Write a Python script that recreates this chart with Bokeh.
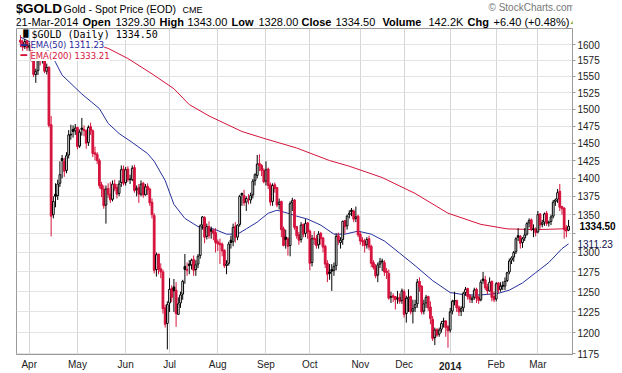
import math
import numpy as np
import pandas as pd
from bokeh.plotting import figure
from bokeh.layouts import column
from bokeh.models import (Range1d, FixedTicker, PrintfTickFormatter, Label, ColumnDataSource,
                          LinearAxis, LogAxis)
from bokeh.embed import file_html
from bokeh.resources import INLINE

# ---------------- data ----------------
holidays = ["2013-03-29", "2013-05-27", "2013-07-04", "2013-09-02", "2013-11-28",
            "2013-12-25", "2014-01-01", "2014-01-20", "2014-02-17"]
dates = pd.bdate_range("2013-03-25", "2014-03-21")
dates = dates[~dates.isin(pd.to_datetime(holidays))]

opens = [
    1607, 1604, 1597, 1606,
    1596, 1599, 1576, 1553, 1559, 1581, 1575, 1586, 1558, 1564, 1477, 1350, 1378, 1376, 1393, 1428, 1424, 1411, 1433, 1463, 1470, 1468,
    1473, 1446, 1472, 1470, 1468, 1451, 1474, 1468, 1436, 1434, 1425, 1391, 1385, 1363, 1386, 1378, 1371, 1392, 1387, 1379, 1394, 1413,
    1394, 1413, 1399, 1398, 1415, 1384, 1387, 1378, 1393, 1377, 1389, 1385, 1367, 1349, 1278, 1298, 1279, 1275, 1230, 1211,
    1236, 1254, 1256, 1252, 1222, 1236, 1247, 1282, 1278, 1285, 1284, 1291, 1278, 1285, 1296, 1336, 1346, 1321, 1334, 1330, 1329, 1326,
    1314, 1312, 1311, 1303, 1283, 1286, 1316, 1314, 1334, 1320, 1337, 1379, 1376, 1367, 1371, 1370, 1377, 1397, 1404, 1421, 1418, 1411,
    1396, 1413, 1391, 1368, 1391, 1387, 1364, 1368, 1331, 1320, 1318, 1309, 1366, 1370, 1334, 1323, 1317, 1337, 1325, 1339,
    1328, 1287, 1319, 1318, 1310, 1325, 1319, 1308, 1286, 1275, 1278, 1277, 1283, 1322, 1313, 1317, 1342, 1335, 1350, 1356, 1355, 1345, 1348,
    1324, 1316, 1315, 1310, 1318, 1308, 1287, 1282, 1271, 1285, 1289, 1287, 1276, 1273, 1243, 1245, 1244, 1241, 1243, 1239,
    1250, 1223, 1241, 1244, 1226, 1230, 1235, 1263, 1257, 1226, 1236, 1244, 1231, 1216, 1194, 1204, 1198, 1204, 1214, 1214, 1207,
    1203, 1226, 1239, 1239, 1231, 1226, 1230, 1249, 1254, 1245, 1240, 1243, 1253, 1243, 1240, 1266, 1265, 1256, 1251, 1263, 1244,
    1241, 1261, 1253, 1258, 1257, 1264, 1275, 1290, 1294, 1301, 1322, 1321, 1313, 1319, 1324, 1339, 1343, 1331, 1331,
    1327, 1351, 1337, 1340, 1352, 1339, 1341, 1348, 1368, 1371, 1382, 1361, 1359, 1331, 1329.3,
]
highs = [
    1615, 1608, 1609, 1607,
    1603, 1600, 1578, 1562, 1588, 1583, 1588, 1588, 1570, 1566, 1490, 1375, 1393, 1398, 1424, 1433, 1429, 1437, 1469, 1477, 1476, 1478,
    1474, 1470, 1487, 1476, 1470, 1476, 1480, 1470, 1445, 1437, 1428, 1395, 1390, 1390, 1393, 1395, 1397, 1398, 1392, 1397, 1418, 1418,
    1416, 1417, 1405, 1418, 1419, 1390, 1392, 1397, 1395, 1392, 1393, 1387, 1372, 1352, 1300, 1298, 1286, 1278, 1234, 1238,
    1267, 1258, 1266, 1262, 1243, 1250, 1265, 1298, 1287, 1290, 1292, 1296, 1290, 1298, 1337, 1348, 1348, 1338, 1341, 1334, 1331, 1332,
    1317, 1318, 1313, 1304, 1290, 1314, 1322, 1338, 1340, 1337, 1377, 1380, 1384, 1375, 1378, 1380, 1399, 1407, 1433, 1434, 1420, 1414,
    1424, 1415, 1394, 1393, 1394, 1388, 1372, 1369, 1334, 1330, 1320, 1368, 1373, 1371, 1335, 1327, 1340, 1338, 1344, 1340,
    1330, 1323, 1328, 1323, 1328, 1327, 1320, 1310, 1290, 1285, 1285, 1287, 1325, 1326, 1320, 1342, 1342, 1350, 1356, 1359, 1357, 1361, 1350,
    1327, 1320, 1318, 1320, 1322, 1310, 1290, 1285, 1287, 1293, 1292, 1290, 1280, 1278, 1250, 1248, 1244, 1251, 1248, 1254,
    1253, 1245, 1253, 1245, 1240, 1240, 1266, 1268, 1258, 1240, 1246, 1245, 1238, 1220, 1206, 1205, 1206, 1214, 1218, 1215, 1209,
    1230, 1240, 1250, 1240, 1233, 1232, 1250, 1256, 1255, 1247, 1245, 1255, 1255, 1245, 1265, 1275, 1270, 1260, 1268, 1264, 1250,
    1262, 1262, 1262, 1263, 1268, 1275, 1292, 1295, 1302, 1320, 1332, 1323, 1320, 1332, 1340, 1345, 1345, 1337, 1333,
    1355, 1352, 1343, 1353, 1355, 1342, 1350, 1370, 1372, 1385, 1392, 1362, 1360, 1336, 1343,
]
lows = [
    1596, 1590, 1593, 1590,
    1590, 1573, 1549, 1540, 1552, 1567, 1570, 1555, 1553, 1473, 1321, 1345, 1360, 1370, 1388, 1400, 1402, 1407, 1428, 1455, 1458, 1462,
    1441, 1443, 1461, 1460, 1442, 1446, 1462, 1430, 1425, 1420, 1386, 1374, 1358, 1338, 1373, 1366, 1368, 1382, 1372, 1375, 1388, 1390,
    1390, 1395, 1392, 1396, 1380, 1375, 1366, 1375, 1373, 1376, 1377, 1362, 1345, 1273, 1269, 1272, 1267, 1223, 1206, 1180,
    1225, 1237, 1225, 1207, 1222, 1230, 1240, 1260, 1270, 1272, 1278, 1270, 1270, 1280, 1292, 1330, 1312, 1317, 1318, 1318, 1316, 1300,
    1302, 1285, 1295, 1280, 1272, 1283, 1305, 1308, 1313, 1316, 1334, 1362, 1362, 1355, 1364, 1365, 1372, 1390, 1400, 1410, 1403, 1393,
    1390, 1385, 1362, 1362, 1380, 1360, 1357, 1320, 1308, 1305, 1296, 1295, 1355, 1330, 1318, 1310, 1313, 1320, 1320, 1318,
    1277, 1282, 1310, 1305, 1305, 1310, 1300, 1280, 1262, 1265, 1251, 1270, 1277, 1310, 1305, 1310, 1325, 1330, 1345, 1348, 1340, 1340, 1320,
    1310, 1308, 1300, 1305, 1303, 1281, 1278, 1267, 1262, 1280, 1276, 1270, 1266, 1240, 1236, 1237, 1228, 1235, 1235, 1235,
    1218, 1212, 1225, 1222, 1211, 1225, 1230, 1250, 1222, 1222, 1230, 1226, 1210, 1190, 1185, 1195, 1195, 1200, 1206, 1195, 1182,
    1200, 1222, 1233, 1225, 1220, 1220, 1225, 1245, 1240, 1236, 1236, 1240, 1236, 1235, 1238, 1260, 1252, 1247, 1250, 1238, 1237,
    1238, 1248, 1250, 1252, 1252, 1262, 1272, 1285, 1288, 1298, 1315, 1305, 1306, 1315, 1322, 1333, 1328, 1320, 1321,
    1325, 1331, 1333, 1335, 1335, 1334, 1336, 1345, 1362, 1366, 1355, 1350, 1318, 1320, 1328,
]
closes = [
    1604, 1596, 1605, 1595,
    1598, 1575, 1553, 1558, 1580, 1575, 1585, 1558, 1564, 1476, 1348, 1368, 1375, 1392, 1405, 1425, 1410, 1432, 1462, 1462, 1467, 1472,
    1445, 1466, 1470, 1468, 1450, 1473, 1468, 1435, 1434, 1425, 1390, 1385, 1362, 1385, 1378, 1370, 1392, 1386, 1378, 1392, 1412, 1393,
    1412, 1398, 1398, 1414, 1383, 1386, 1378, 1392, 1377, 1388, 1384, 1366, 1350, 1277, 1297, 1278, 1275, 1229, 1210, 1234,
    1253, 1243, 1251, 1223, 1235, 1246, 1263, 1278, 1277, 1283, 1290, 1277, 1284, 1295, 1335, 1347, 1320, 1334, 1322, 1328, 1325, 1313,
    1311, 1310, 1302, 1283, 1285, 1311, 1313, 1333, 1320, 1336, 1375, 1377, 1366, 1372, 1370, 1376, 1396, 1405, 1420, 1418, 1411, 1395,
    1412, 1390, 1367, 1390, 1386, 1363, 1367, 1330, 1309, 1317, 1308, 1365, 1369, 1333, 1322, 1316, 1336, 1324, 1338, 1327,
    1286, 1318, 1317, 1309, 1324, 1318, 1307, 1285, 1272, 1273, 1276, 1282, 1321, 1315, 1316, 1341, 1334, 1348, 1352, 1354, 1344, 1347, 1323,
    1315, 1314, 1309, 1317, 1307, 1286, 1281, 1270, 1284, 1288, 1288, 1275, 1274, 1242, 1244, 1243, 1240, 1242, 1238, 1251,
    1222, 1242, 1243, 1225, 1229, 1234, 1262, 1256, 1225, 1235, 1243, 1230, 1217, 1193, 1203, 1197, 1203, 1211, 1213, 1206, 1202,
    1225, 1238, 1238, 1230, 1225, 1229, 1248, 1253, 1244, 1241, 1242, 1252, 1242, 1239, 1262, 1264, 1255, 1251, 1262, 1243, 1240,
    1260, 1252, 1257, 1257, 1263, 1274, 1289, 1293, 1300, 1318, 1320, 1312, 1318, 1323, 1338, 1342, 1330, 1330, 1326,
    1350, 1336, 1339, 1351, 1338, 1340, 1347, 1367, 1370, 1380, 1360, 1358, 1330, 1328.1, 1334.5,
]

ema50_dates = ["2013-03-25", "2013-04-05", "2013-04-12", "2013-04-17", "2013-04-22", "2013-05-03",
               "2013-05-15", "2013-05-21", "2013-05-29", "2013-06-06", "2013-06-17", "2013-06-20",
               "2013-06-27", "2013-07-03", "2013-07-11", "2013-07-19", "2013-07-30", "2013-08-07",
               "2013-08-14", "2013-08-20", "2013-08-27", "2013-09-04", "2013-09-10", "2013-09-17",
               "2013-09-23", "2013-09-30", "2013-10-08", "2013-10-16", "2013-10-23", "2013-10-31",
               "2013-11-08", "2013-11-18", "2013-11-27", "2013-12-09", "2013-12-19", "2014-01-02",
               "2014-01-13", "2014-01-23", "2014-02-04", "2014-02-11", "2014-02-20", "2014-02-28",
               "2014-03-10", "2014-03-18", "2014-03-21"]
ema50_vals = [1612, 1598, 1590, 1572, 1552, 1523,
              1501, 1479, 1464, 1451, 1435, 1424,
              1397, 1364, 1345, 1334, 1331, 1324,
              1324, 1331, 1340, 1352, 1356, 1352,
              1348, 1344, 1336, 1324, 1324, 1328,
              1324, 1315, 1299, 1283, 1264, 1249,
              1246, 1246, 1248, 1252, 1261, 1274,
              1287, 1305, 1311.23]

ema200_dates = ["2013-04-30", "2013-05-21", "2013-06-04", "2013-06-19", "2013-07-03", "2013-07-15",
                "2013-07-26", "2013-08-16", "2013-08-30", "2013-09-23", "2013-10-14", "2013-10-25",
                "2013-11-15", "2013-12-09", "2013-12-31", "2014-01-23", "2014-02-10", "2014-02-28",
                "2014-03-18", "2014-03-21"]
ema200_vals = [1610, 1594, 1578, 1554, 1531, 1507,
               1490, 1467, 1457, 1443, 1425, 1417,
               1401, 1379, 1352, 1337, 1331, 1330,
               1331, 1333.21]

month_labels = ["Apr", "May", "Jun", "Jul", "Aug", "Sep", "Oct", "Nov", "Dec", "2014", "Feb", "Mar"]
price_ticks = [1175, 1200, 1225, 1250, 1275, 1300, 1325, 1350, 1375, 1400, 1425,
               1450, 1475, 1500, 1525, 1550, 1575, 1600]

# ---------------- prep ----------------
n = len(dates)
date_idx = {d.strftime("%Y-%m-%d"): i for i, d in enumerate(dates)}
o = np.array(opens, float); h = np.array(highs, float)
l = np.array(lows, float); c = np.array(closes, float)
prev = np.concatenate([[o[0]], c[:-1]])
RED = "#d5133d"
BLUE = "#26309c"
color = np.where(c >= prev, "#000000", RED)
fill = np.where(c > o, "#ffffff", color)
src = ColumnDataSource(dict(x=np.arange(n), top=np.maximum(o, c), bottom=np.minimum(o, c),
                            high=h, low=l, color=color, fill=fill))

month_starts = [i for i in range(1, n) if dates[i].month != dates[i - 1].month]

FONT = "Liberation Sans"
W = 618
HEAD = 28                     # header strip height
H = 344                       # main figure height
FL, FR, FT, FB = 16, 576, 0, 327   # frame edges inside the main figure
X0, X1 = -1.8, n - 1 + 1.8
Y0, Y1 = 1174.0, 1626.0


def X(px):   # page px -> data x
    return X0 + (px - FL) / (FR - FL) * (X1 - X0)


def Y(py):   # page px -> data y (log axis); frame top sits at page y = HEAD
    py = py - HEAD
    return math.exp(math.log(Y1) - (py - FT) / (FB - FT) * (math.log(Y1) - math.log(Y0)))


# ---------------- header strip ----------------
hd = figure(width=W, height=HEAD, x_range=Range1d(0, W), y_range=Range1d(0, HEAD),
            x_axis_location=None, y_axis_location=None,
            output_backend="svg", toolbar_location=None, title=None,
            min_border=0, min_border_left=0, min_border_right=0,
            min_border_top=0, min_border_bottom=0)
hd.grid.visible = False
hd.outline_line_color = None
hd.background_fill_color = "white"
hd.border_fill_color = "white"


def htxt(x, y, s, size, bold=False, color="#000000"):
    hd.add_layout(Label(x=x, y=y, x_units="canvas", y_units="canvas", text=s,
                        text_font=FONT, text_font_size=f"{size}px",
                        text_font_style="bold" if bold else "normal", text_color=color,
                        text_align="left", text_baseline="middle"))


y1 = 8
htxt(15, y1, "$GOLD", 13.5, bold=True)
htxt(63, y1 + 0.5, "Gold - Spot Price (EOD)", 10.5)
htxt(182, y1 + 1, "CME", 9)
htxt(488, 7, "\u00a9 StockCharts.com", 10, color="#777777")
y2 = 21
htxt(15, y2, "21-Mar-2014", 11)
htxt(82, y2, "Open", 11, bold=True)
htxt(115, y2, "1329.30", 11)
htxt(159, y2, "High", 11, bold=True)
htxt(187, y2, "1343.00", 11)
htxt(231, y2, "Low", 11, bold=True)
htxt(258, y2, "1328.00", 11)
htxt(301, y2, "Close", 11, bold=True)
htxt(335, y2, "1334.50", 11)
htxt(382, y2, "Volume", 11, bold=True)
htxt(428, y2, "142.2K", 11)
htxt(467, y2, "Chg", 11, bold=True)
htxt(493, y2, "+6.40 (+0.48%)", 11)
htxt(569, y2 - 0.5, "\u25b2", 7, color="#2e8b2e")

# ---------------- main chart ----------------
p = figure(width=W, height=H, x_range=Range1d(X0, X1),
           y_range=Range1d(Y0, Y1), y_axis_type="log", y_axis_location="right",
           output_backend="svg", toolbar_location=None, title=None,
           min_border_left=FL, min_border_right=W - FR, min_border_top=FT,
           min_border_bottom=H - FB)
p.background_fill_color = "white"
p.border_fill_color = "white"
p.outline_line_color = "#9a9a9a"

p.xgrid.ticker = FixedTicker(ticks=month_starts)
p.xgrid.grid_line_color = "#d6d6d6"
p.ygrid.ticker = FixedTicker(ticks=price_ticks)
p.ygrid.grid_line_color = "#e4e4e4"

common_y = dict(minor_tick_line_color=None, major_tick_in=0, major_label_text_font=FONT,
                major_label_text_font_size="10px")

yax = p.yaxis[0]
yax.ticker = FixedTicker(ticks=price_ticks)
yax.formatter = PrintfTickFormatter(format="%d")
yax.major_label_overrides = {1325: ""}
yax.major_tick_out = 3
yax.axis_line_color = "#9a9a9a"
yax.major_tick_line_color = "#9a9a9a"
yax.major_label_text_color = "#222222"
yax.major_label_standoff = 2
yax.update(**common_y)

# tags for the last close and the last EMA(50), drawn over the price axis labels
tag_close = closes[-1]
tag_ema = ema50_vals[-1]
ax_tag1 = LogAxis(ticker=FixedTicker(ticks=[tag_close]), formatter=PrintfTickFormatter(format="%.2f"),
                  axis_line_color=None, major_tick_line_color=None, major_tick_out=0,
                  major_label_standoff=-23, major_label_text_color="#000000",
                  major_label_text_font_style="bold", **common_y)
p.add_layout(ax_tag1, "right")
ax_tag2 = LogAxis(ticker=FixedTicker(ticks=[tag_ema]), formatter=PrintfTickFormatter(format="%.2f"),
                  axis_line_color=None, major_tick_line_color=None, major_tick_out=0,
                  major_label_standoff=-41, major_label_text_color="#10104a", **common_y)
p.add_layout(ax_tag2, "right")

overrides = {i: ("" if lab == "2014" else lab) for i, lab in zip(month_starts, month_labels)}
xax = p.xaxis[0]
xax.ticker = FixedTicker(ticks=month_starts)
xax.major_label_overrides = overrides
xax.major_tick_out = 0
xax.major_tick_in = 0
xax.major_tick_line_color = None
xax.minor_tick_line_color = None
xax.axis_line_color = "#9a9a9a"
xax.major_label_text_font = FONT
xax.major_label_text_font_size = "10px"
xax.major_label_text_color = "#222222"
xax.major_label_standoff = 4

# bold "2014": a second bottom axis whose labels are pulled back onto the month row
i2014 = month_starts[month_labels.index("2014")]
ax2014 = LinearAxis(ticker=FixedTicker(ticks=[i2014]), major_label_overrides={i2014: "2014"},
                    axis_line_color=None, major_tick_line_color=None, minor_tick_line_color=None,
                    major_tick_out=0, major_tick_in=0, major_label_standoff=-11,
                    major_label_text_font=FONT, major_label_text_font_size="10px",
                    major_label_text_font_style="bold", major_label_text_color="#222222")
p.add_layout(ax2014, "below")

# EMA lines
p.line([date_idx[d] for d in ema200_dates], ema200_vals, line_color=RED, line_width=1)
p.line([date_idx[d] for d in ema50_dates], ema50_vals, line_color=BLUE, line_width=1)

# candles
p.segment(x0="x", y0="high", x1="x", y1="low", line_color="color", line_width=1, source=src)
p.vbar(x="x", width=0.8, top="top", bottom="bottom", fill_color="fill", line_color="color",
       line_width=1, source=src)


def txt(px, py, s, size, color="#000000", font="DejaVu Sans", bg=None):
    lab = Label(x=X(px), y=Y(py), text=s, text_font=font, text_font_size=f"{size}px",
                text_color=color, text_align="left", text_baseline="middle")
    if bg:
        lab.background_fill_color = bg
    p.add_layout(lab)


# in-chart legend
txt(31, 34, "$GOLD (Daily) 1334.50", 10, font="DejaVu Sans Mono", bg="white")
txt(20, 34, "\u2590\u258c", 7)
txt(20, 45, "\u2501", 11, color=BLUE)
txt(30, 45, "EMA(50) 1311.23", 8.5, color="#1f1f9a", bg="white")
txt(20, 55.5, "\u2501", 11, color=RED)
txt(30, 55.5, "EMA(200) 1333.21", 8.5, color=RED, bg="white")

layout = column(hd, p, spacing=0)
open("out.html", "w").write(file_html(layout, INLINE))
